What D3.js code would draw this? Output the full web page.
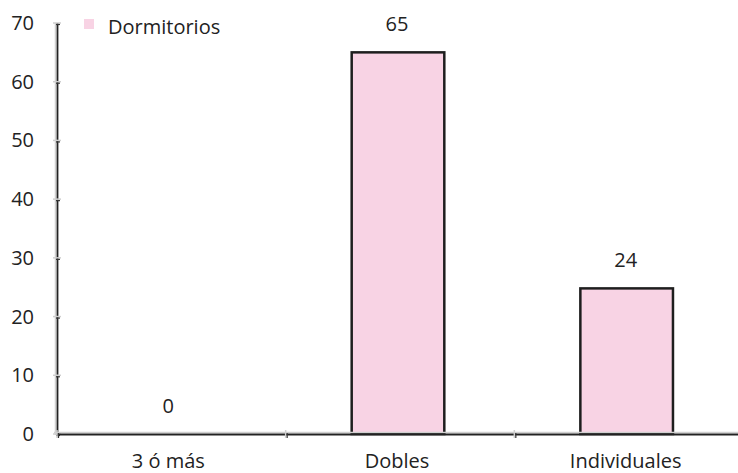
<!DOCTYPE html>
<html><head><meta charset="utf-8">
<script src="https://cdn.jsdelivr.net/npm/d3@7"></script>
<style>body{margin:0;background:#fff}svg{display:block}</style>
</head><body>
<script>
const categories = ["3 ó más", "Dobles", "Individuales"];
const values = [0, 65, 24.8];
const valueLabels = ["0", "65", "24"];
const yTicks = [0, 10, 20, 30, 40, 50, 60, 70];
const seriesName = "Dormitorios";

const W = 738, H = 473;
const m = {left: 57, right: -5, top: 23, bottom: 39};
const svg = d3.select("body").append("svg").attr("width", W).attr("height", H);
const font = "'Open Sans', 'DejaVu Sans', sans-serif";
const fs = 20;
const fw = 500;

const x = d3.scaleBand().domain(categories).range([m.left, W - m.right]).paddingInner(0).paddingOuter(0);
const y = d3.scaleLinear().domain([0, 70]).range([H - m.bottom, m.top]);
const bw = x.bandwidth() * 0.405;

// bars
svg.selectAll("rect.bar").data(categories).enter().append("rect")
  .attr("class", "bar")
  .attr("x", (d) => x(d) + (x.bandwidth() - bw) / 2 - 2)
  .attr("width", bw)
  .attr("y", (d, i) => y(values[i]))
  .attr("height", (d, i) => y(0) - y(values[i]))
  .attr("fill", "#f8d3e4")
  .attr("stroke", (d, i) => values[i] > 0 ? "#1e1e1e" : "none")
  .attr("stroke-width", 2.5);

// value labels
svg.selectAll("text.val").data(categories).enter().append("text")
  .attr("x", (d) => x(d) + x.bandwidth() / 2 - 3)
  .attr("y", (d, i) => y(values[i]) - 21)
  .attr("text-anchor", "middle")
  .attr("font-family", font).attr("font-size", fs).attr("font-weight", fw).attr("fill", "#222")
  .text((d, i) => valueLabels[i]);

// y axis: shadow + line
const y0 = y(0), yTop = y(70);
svg.append("line").attr("x1", m.left - 1.5).attr("x2", m.left - 1.5).attr("y1", yTop).attr("y2", y0 + 1)
  .attr("stroke", "#d0d0d0").attr("stroke-width", 1.5);
svg.append("line").attr("x1", m.left + 0.5).attr("x2", m.left + 0.5).attr("y1", yTop).attr("y2", y0 + 2)
  .attr("stroke", "#222").attr("stroke-width", 1.8);
// y ticks
yTicks.forEach(t => {
  svg.append("line").attr("x1", m.left - 4).attr("x2", m.left + 4).attr("y1", y(t)).attr("y2", y(t))
    .attr("stroke", "#cfcfcf").attr("stroke-width", 1.5);
  svg.append("line").attr("x1", m.left - 1).attr("x2", m.left + 3).attr("y1", y(t) + 1.5).attr("y2", y(t) + 1.5)
    .attr("stroke", "#333").attr("stroke-width", 1.2);
  svg.append("text").attr("x", 34).attr("y", y(t) + 7).attr("text-anchor", "end")
    .attr("font-family", font).attr("font-size", fs).attr("font-weight", fw).attr("fill", "#222").text(t);
});

// x axis: shadow + line
svg.append("line").attr("x1", m.left - 3).attr("x2", W).attr("y1", y0 - 1.5).attr("y2", y0 - 1.5)
  .attr("stroke", "#d0d0d0").attr("stroke-width", 1.5);
svg.append("line").attr("x1", m.left).attr("x2", W).attr("y1", y0 + 0.5).attr("y2", y0 + 0.5)
  .attr("stroke", "#222").attr("stroke-width", 1.8);
categories.forEach(c => {
  const xx = x(c);
  svg.append("line").attr("x1", xx).attr("x2", xx).attr("y1", y0 - 4).attr("y2", y0 + 4)
    .attr("stroke", "#cfcfcf").attr("stroke-width", 1.5);
  svg.append("line").attr("x1", xx + 1.5).attr("x2", xx + 1.5).attr("y1", y0 - 1).attr("y2", y0 + 4)
    .attr("stroke", "#333").attr("stroke-width", 1.2);
  svg.append("text").attr("x", xx + x.bandwidth() / 2 - 3).attr("y", y0 + 34).attr("text-anchor", "middle")
    .attr("font-family", font).attr("font-size", fs).attr("font-weight", fw).attr("fill", "#222").text(c);
});

// legend
svg.append("rect").attr("x", 84).attr("y", 19).attr("width", 10).attr("height", 10).attr("fill", "#f8d3e4");
svg.append("text").attr("x", 108).attr("y", 34).attr("font-family", font).attr("font-size", fs)
  .attr("font-weight", fw).attr("fill", "#222").text(seriesName);
</script>
</body></html>
